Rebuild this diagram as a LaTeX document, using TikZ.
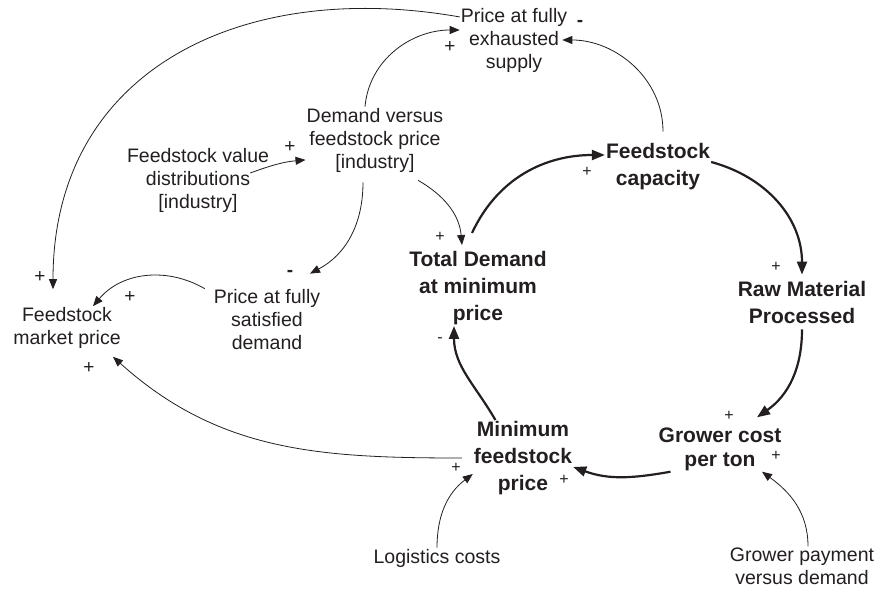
\documentclass[tikz,border=0pt]{standalone}
\usepackage{fontspec}
\setmainfont{Liberation Sans}
\usetikzlibrary{arrows.meta}
\definecolor{ink}{RGB}{35,31,32}
\begin{document}
\begin{tikzpicture}[x=1pt, y=1pt, color=ink,
   varnode/.style = {align=center, inner sep=1pt, font=\fontsize{19.5}{23}\selectfont},
   loopnode/.style = {align=center, inner sep=1pt, font=\fontsize{21}{27}\selectfont\bfseries},
   thinlink/.style = {line width=0.8pt, -{Triangle[length=10pt,width=8pt]}},
   thicklink/.style = {line width=2.2pt, -{Triangle[length=13pt,width=10pt]}},
   signbig/.style = {inner sep=0pt, font=\fontsize{19}{19}\selectfont},
   signsmall/.style = {inner sep=0pt, font=\fontsize{16}{16}\selectfont},
   signneg/.style = {inner sep=0pt, font=\fontsize{19}{19}\selectfont\bfseries}]
   \useasboundingbox (0,0) rectangle (880,589);
   \node[varnode] (pe) at (514,549) {Price at fully\\exhausted\\supply};
   \node[varnode] (dv) at (375,449) {Demand versus\\feedstock price\\{[industry]}};
   \node[varnode] (fv) at (198,409) {Feedstock value\\distributions\\{[industry]}};
   \node[varnode] (ps) at (267,269) {Price at fully\\satisfied\\demand};
   \node[varnode] (fm) at (67,261) {Feedstock\\market price};
   \node[varnode] (lc) at (437,31) {Logistics costs};
   \node[varnode] (gp) at (802,23) {Grower payment\\versus demand};
   \node[loopnode] (td) at (478,301) {Total Demand\\at minimum\\price};
   \node[loopnode] (fc) at (658,422) {Feedstock\\capacity};
   \node[loopnode] (rm) at (802,287) {Raw Material\\Processed};
   \node[loopnode, font=\fontsize{21}{24}\selectfont\bfseries] (gc) at (720,140) {Grower cost\\per ton};
   \node[loopnode] (mf) at (523,131) {Minimum\\feedstock\\price};
   \draw[thinlink] (pe.157) to[out=170,in=90,looseness=1.15] ([xshift=-14pt,yshift=17pt]fm.north);
   \draw[thinlink] ([xshift=-10pt]dv.north) to[out=85,in=180] ([yshift=10pt]pe.west);
   \draw[thinlink] ([xshift=5pt,yshift=11pt]fc.north) to[out=90,in=0] ([xshift=-6pt]pe.east);
   \draw[thinlink] ([xshift=-20pt,yshift=7pt]fv.east) to[out=20,in=185] (dv.196);
   \draw[thinlink] ([xshift=-12pt,yshift=-9pt]dv.south) to[out=-90,in=28] ([xshift=43pt,yshift=15pt]ps.north);
   \draw[thinlink] ([xshift=43pt,yshift=-7pt]dv.south) to[out=-30,in=95] ([xshift=-16pt,yshift=5pt]td.north);
   \draw[thinlink] ([xshift=-8pt]ps.north west) to[out=150,in=50] ([xshift=26pt]fm.north);
   \draw[thinlink] ([xshift=-11pt]mf.west) to[out=180,in=-42] ([xshift=46pt,yshift=-7pt]fm.south);
   \draw[thicklink] ([xshift=-6pt,yshift=17pt]td.north) to[out=65,in=180] ([yshift=12pt]fc.west);
   \draw[thicklink] ([yshift=5pt]fc.east) to[out=-15,in=90] ([yshift=5pt]rm.north);
   \draw[thicklink] ([yshift=-5pt]rm.south) to[out=-90,in=35] ([xshift=37pt,yshift=9pt]gc.north);
   \draw[thicklink] ([xshift=13pt]gc.south west) to[out=190,in=-20] ([yshift=-9pt]mf.east);
   \draw[thicklink] (mf.126) to[out=120,in=-90] ([xshift=-24pt]td.south);
   \draw[thinlink] (lc.north) to[out=90,in=217] ([yshift=-16pt]mf.west);
   \draw[thinlink] ([xshift=6pt]gp.north) to[out=90,in=-36] ([xshift=42pt]gc.south);
   \node[signneg] (s1) at (580,566) {-};
   \node[signbig] (s2) at (450,542) {+};
   \node[signbig] (s3) at (290,442) {+};
   \node[signneg] (s4) at (290,316) {-};
   \node[signsmall] (s5) at (440,352) {+};
   \node[signbig] (s6) at (130,292) {+};
   \node[signbig] (s7) at (40,312) {+};
   \node[signbig] (s8) at (89,221) {+};
   \node[signsmall] (s9) at (440,249) {-};
   \node[signsmall] (s10) at (587,417) {+};
   \node[signsmall] (s11) at (776,322) {+};
   \node[signsmall] (s12) at (729,173) {+};
   \node[signsmall] (s13) at (776,133) {+};
   \node[signsmall] (s14) at (456,121) {+};
   \node[signsmall] (s15) at (564,109) {+};
\end{tikzpicture}
\end{document}
